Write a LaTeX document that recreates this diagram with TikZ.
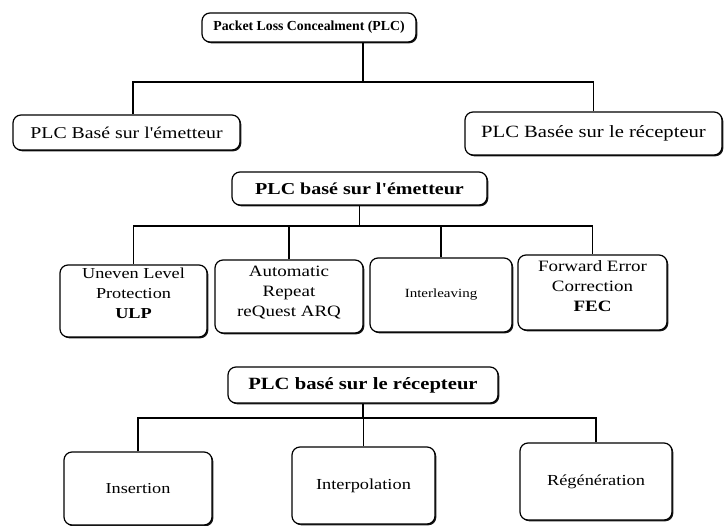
\documentclass[tikz,border=0pt]{standalone}
\usepackage{fontspec}
\setmainfont{Liberation Serif}
\newfontfamily\scanf[FakeStretch=1.2]{Liberation Serif}
\usetikzlibrary{shadows}
\begin{document}
\begin{tikzpicture}[x=1pt,y=-1pt,
  box/.style={draw, line width=1.2pt, rounded corners=8pt, fill=white,
    drop shadow={shadow xshift=1.3pt, shadow yshift=-1.3pt, fill=black, opacity=0.9},
    inner sep=0pt, align=center},
  conn/.style={line width=1.3pt},
  lbl/.style={inner sep=0pt, align=center},
  fs/.style={font=\scanf\fontsize{#1}{20}\selectfont},
  fsb/.style={font=\scanf\bfseries\fontsize{#1}{20}\selectfont}
]
\useasboundingbox (0,0) rectangle (725,526);

% level 0 / 1
\node[box, minimum width=214, minimum height=29, font=\bfseries\fontsize{13.8}{16}\selectfont] (plc) at (309,27.5) {Packet Loss Concealment (PLC)};
\node[box, minimum width=227, minimum height=35, fs=16.5] (em) at (126.5,132.5) {PLC Basé sur l'émetteur};
\node[box, minimum width=257, minimum height=43, fs=17.2] (rec) at (593.5,133.5) {PLC Basée sur le récepteur};

\coordinate (b1) at (363,82);
\draw[conn] (plc.south -| b1) -- (b1);
\draw[conn] ([xshift=6.5pt]em.north) |- (b1) -| (rec.north);

% emitter side
\node[box, minimum width=255, minimum height=33, fsb=16.7] (hem) at (359.5,188.5) {PLC basé sur l'émetteur};
\node[box, minimum width=147, minimum height=72] (ulp) at (133.5,301) {};
\node[box, minimum width=148, minimum height=73] (arq) at (289,296.5) {};
\node[box, minimum width=142, minimum height=74, fs=12.5] (intl) at (441,295) {Interleaving};
\node[box, minimum width=149, minimum height=75] (fec) at (592.5,292.5) {};

\node[lbl, fs=15.2, anchor=north] (ulpt) at ([yshift=-3pt]ulp.north) {Uneven Level\\Protection\\\textbf{ULP}};
\node[lbl, fs=15.8, anchor=north] (arqt) at ([yshift=-6pt]arq.north) {Automatic\\Repeat\\reQuest ARQ};
\node[lbl, fs=15.8, anchor=north] (fect) at ([yshift=-6pt]fec.north) {Forward Error\\Correction\\\textbf{FEC}};

\coordinate (b2) at (359.5,226);
\draw[conn] (hem.south) -- (b2);
\draw[conn] (ulp.north) |- (b2) -| (fec.north);
\draw[conn] (arq.north) -- (arq.north |- b2);
\draw[conn] (intl.north) -- (intl.north |- b2);

% receiver side
\node[box, minimum width=270, minimum height=36, fsb=17.2] (hrec) at (363,385) {PLC basé sur le récepteur};
\node[box, minimum width=148, minimum height=73, fs=15.2] (ins) at (138,488.5) {Insertion};
\node[box, minimum width=143, minimum height=77, fs=15.3] (itp) at (363.5,485.5) {Interpolation};
\node[box, minimum width=152, minimum height=77, fs=15.3] (reg) at (596,481.5) {Régénération};

\coordinate (b3) at (363,418);
\draw[conn] (hrec.south) -- (b3);
\draw[conn] (ins.north) |- (b3) -| (reg.north);
\draw[conn] (itp.north) -- (itp.north |- b3);
\end{tikzpicture}
\end{document}
